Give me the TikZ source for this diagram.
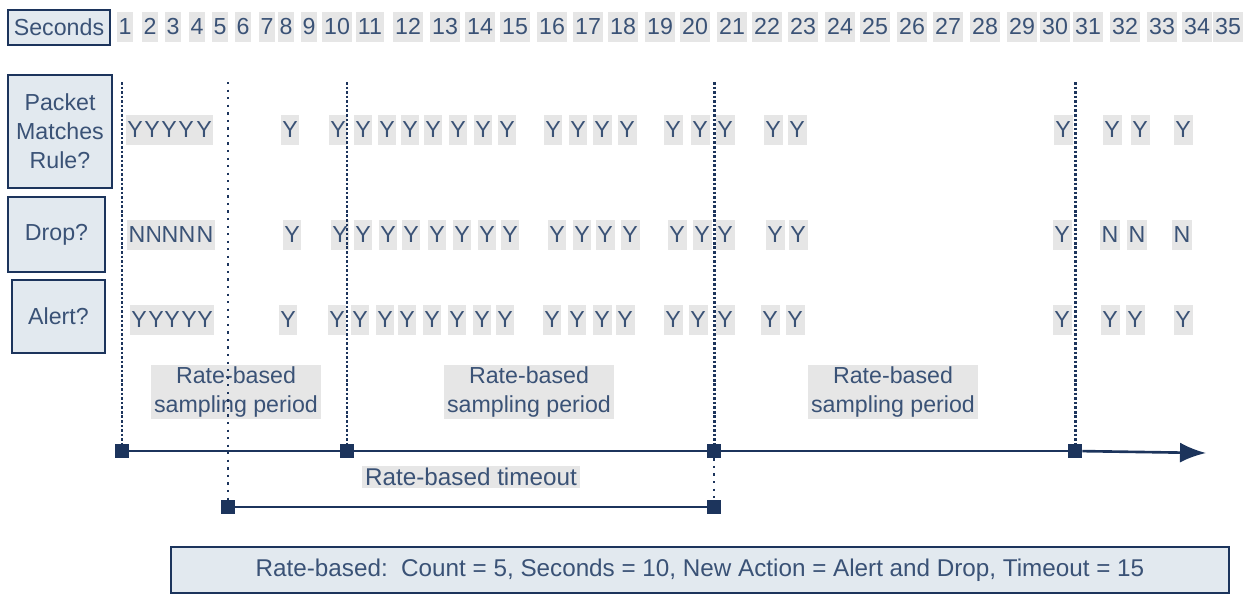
\documentclass[tikz,border=0pt]{standalone}
\usepackage{fontspec}
\setmainfont{Liberation Sans}
\usetikzlibrary{arrows.meta, positioning}
\definecolor{navy}{RGB}{28,52,92}
\definecolor{inkblue}{RGB}{58,82,118}
\definecolor{panel}{RGB}{226,233,239}
\definecolor{shade}{RGB}{230,230,230}

\begin{document}
\begin{tikzpicture}[
        x=0.02cm, y=-0.02cm,
        font=\fontsize{13.2}{16.4}\selectfont,
        >={Latex[width=4mm,length=5.2mm]},
        label/.style={draw=navy, line width=1.5pt, fill=panel, text=inkblue, align=center, inner sep=0pt},
        cell/.style={fill=shade, text=inkblue, inner xsep=1pt, inner ysep=0pt, minimum height=0.6cm, text height=1.55ex, text depth=0pt},
        period/.style={fill=shade, text=inkblue, align=center, inner xsep=2pt, inner ysep=1pt},
        square/.style={fill=navy, inner sep=0pt, minimum size=0.28cm},
        axis/.style={line width=1.5pt, color=navy},
        guide/.style={line width=1.7pt, color=navy, dash pattern=on 1.5pt off 1.1pt},
        sparse/.style={line width=1.4pt, color=navy, dash pattern=on 1.3pt off 3pt}
    ]
    \useasboundingbox (0,0) rectangle (1247,595);

    % Row labels
    \node[label, minimum width=2.04cm, minimum height=0.7cm] (seconds) at (59,27.5) {Seconds};
    \node[label, minimum width=2.08cm, minimum height=2.26cm] (matches) at (60,131.5) {Packet\\Matches\\Rule?};
    \node[label, minimum width=1.94cm, minimum height=1.5cm] (drop) at (56.5,234.5) {Drop?};
    \node[label, minimum width=1.86cm, minimum height=1.46cm] (alert) at (58.5,316.5) {Alert?};

    % Seconds
    \foreach \x [count=\i] in {125,150,173,197,220,243,267,286,309,337,370,408,445,480,515,552,588,623,660,695,732,767,803,840,875,912,948,985,1022,1055,1088,1125,1162,1197,1228}
        \node[cell] (sec\i) at (\x,27) {\i};

    % Answers
    \foreach \x [count=\i] in {135,152,169,186,204,290,338,363,387,410,433,458,483,507,553,578,602,627,673,700,725,773,797,1063,1112,1140,1183}
        \node[cell] (match\i) at (\x,130) {Y};
    \foreach \x/\v [count=\i] in {137/N,154/N,170/N,187/N,205/N,292/Y,340/Y,363/Y,388/Y,411/Y,437/Y,462/Y,487/Y,510/Y,557/Y,582/Y,605/Y,630/Y,677/Y,702/Y,725/Y,775/Y,798/Y,1062/Y,1110/N,1137/N,1182/N}
        \node[cell] (drop\i) at (\x,235) {\v};
    \foreach \x [count=\i] in {139,156,172,189,205,288,337,360,385,407,432,457,482,505,552,577,602,625,673,698,725,770,795,1062,1110,1135,1183}
        \node[cell] (alert\i) at (\x,320) {Y};

    % Periods
    \node[period] (period1) at (236,392) {Rate-based\\sampling period};
    \node[period] (period2) at (529,392) {Rate-based\\sampling period};
    \node[period] (period3) at (893,392) {Rate-based\\sampling period};
    \node[period, font=\fontsize{13.8}{16.4}\selectfont] (timeout) at (471,477) {Rate-based timeout};

    % Time line
    \node[square] (start) at (122,451) {};
    \node[square] (reset1) at (347,451) {};
    \node[square] (reset2) at (714,451) {};
    \node[square] (reset3) at (1075,451) {};
    \node[square] (toStart) at (228,507) {};
    \node[square] (toEnd) at (714,507) {};
    \coordinate (tip) at (1206,453);

    \coordinate (top1) at (122,82);
    \coordinate (top2) at (228,82);
    \coordinate (top3) at (347,82);
    \coordinate (top4) at (714,82);
    \coordinate (top5) at (1075,82);

    % Lines
    \draw[guide] (top1) -- (start);
    \draw[sparse] (top2) -- (toStart);
    \draw[guide] (top3) -- (reset1);
    \draw[guide] (top4) -- (reset2);
    \draw[sparse] (reset2) -- (toEnd);
    \draw[guide] (top5) -- (reset3);

    \draw[axis] (start) -- (reset1) -- (reset2) -- (reset3);
    \draw[axis, ->] (reset3) -- (tip);
    \draw[axis] (toStart) -- (toEnd);

    % Summary
    \node[label, line width=1.2pt, minimum width=21.16cm, minimum height=0.92cm, font=\fontsize{13.8}{16.4}\selectfont] (summary) at (700,570)
        {Rate-based:\ \ Count = 5, Seconds = 10, New Action = Alert and Drop, Timeout = 15};

\end{tikzpicture}
\end{document}
